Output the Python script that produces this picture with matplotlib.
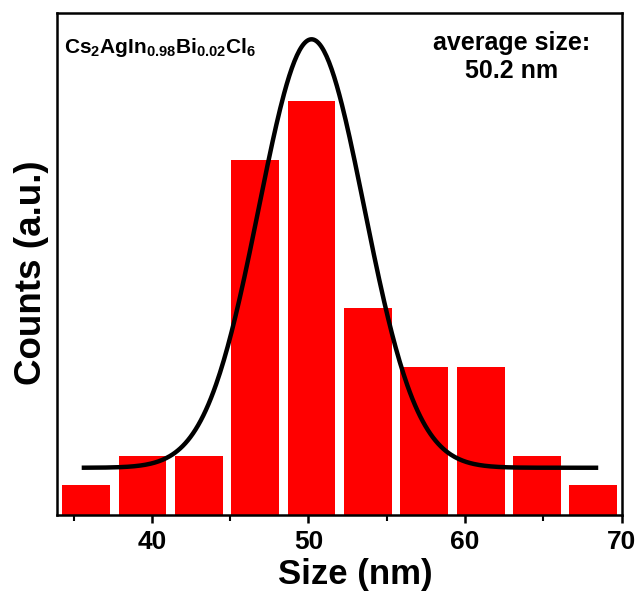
import matplotlib
matplotlib.use("Agg")
import matplotlib.pyplot as plt
import numpy as np
from matplotlib.ticker import MultipleLocator

plt.rcParams["font.family"] = ["Liberation Sans", "DejaVu Sans"]
plt.rcParams["font.weight"] = "bold"
plt.rcParams["mathtext.fontset"] = "custom"
plt.rcParams["mathtext.rm"] = "Liberation Sans:bold"
plt.rcParams["mathtext.it"] = "Liberation Sans:bold"
plt.rcParams["mathtext.bf"] = "Liberation Sans:bold"

# histogram bins (nm) and counts
bin_centers = [35.8, 39.4, 43.0, 46.6, 50.2, 53.8, 57.4, 61.0, 64.6, 68.2]
counts = [1, 2, 2, 12, 14, 7, 5, 5, 2, 1]
bar_width = 3.05

# gaussian fit parameters
fit_center = 50.2
fit_sigma = 3.37
fit_amplitude = 14.5
fit_offset = 1.6
fit_range = (35.66, 68.37)

fig = plt.figure(figsize=(6.44, 5.99), dpi=100)
ax = fig.add_axes([0.0885, 0.1402, 0.8766, 0.8386])

ax.bar(bin_centers, counts, width=bar_width, color="#ff0000", edgecolor="none")

x = np.linspace(*fit_range, 400)
y = fit_offset + fit_amplitude * np.exp(-((x - fit_center) ** 2) / (2 * fit_sigma ** 2))
ax.plot(x, y, color="black", lw=3.2)

ax.set_xlim(33.94, 70)
ax.set_ylim(0, 17)
ax.xaxis.set_major_locator(MultipleLocator(10))
ax.xaxis.set_minor_locator(MultipleLocator(5))
ax.set_yticks([])
ax.tick_params(axis="x", which="major", direction="out", length=6, width=1.8,
               labelsize=19, pad=5)
ax.tick_params(axis="x", which="minor", direction="out", length=4, width=1.5)
for spine in ax.spines.values():
    spine.set_linewidth(1.8)

ax.set_xlabel("Size (nm)", fontsize=25, fontweight="bold")
ax.set_ylabel("Counts (a.u.)", fontsize=26.5, fontweight="bold")
ax.xaxis.set_label_coords(0.529, -0.085)
ax.yaxis.set_label_coords(-0.014, 0.483)

ax.text(0.012, 0.93, r"$\mathrm{Cs_2AgIn_{0.98}Bi_{0.02}Cl_6}$", transform=ax.transAxes,
        fontsize=15, ha="left", va="center")
ax.text(0.805, 0.912, "average size:\n50.2 nm", transform=ax.transAxes,
        fontsize=18, ha="center", va="center", linespacing=1.2)

fig.savefig("out.png", dpi=100)
